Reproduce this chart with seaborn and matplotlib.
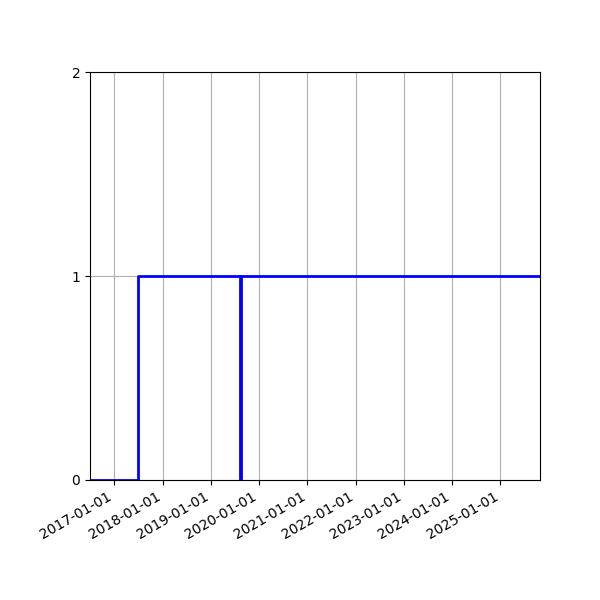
import matplotlib
matplotlib.use("Agg")
import matplotlib.pyplot as plt
import matplotlib.dates as mdates
import seaborn as sns
import pandas as pd

dates = ["2016-07-01", "2017-07-01", "2019-08-07", "2019-08-14", "2025-10-27"]
values = [0, 1, 0, 1, 1]
y_ticks = [0, 1, 2]

df = pd.DataFrame({"date": pd.to_datetime(dates), "value": values})

fig, ax = plt.subplots(figsize=(6, 6), dpi=100)
sns.lineplot(data=df, x="date", y="value", ax=ax, estimator=None,
             drawstyle="steps-post", color="blue", linewidth=2)
ax.set_xlim(df["date"].min(), df["date"].max())
ax.set_ylim(0, 2)
ax.set_yticks(y_ticks)
ax.xaxis.set_major_locator(mdates.YearLocator())
ax.xaxis.set_major_formatter(mdates.DateFormatter("%Y-%m-%d"))
ax.grid(True, color="#b0b0b0", linewidth=0.8)
ax.set_xlabel("")
ax.set_ylabel("")
fig.autofmt_xdate()
fig.subplots_adjust(left=0.15, right=0.9, top=0.88, bottom=0.2)
fig.savefig("out.png", dpi=100)
